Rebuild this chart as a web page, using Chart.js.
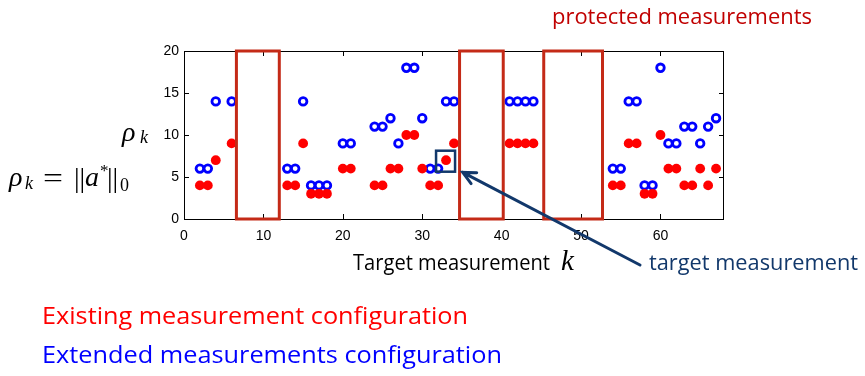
<!DOCTYPE html>
<html>
<head>
<meta charset="utf-8">
<script src="https://cdn.jsdelivr.net/npm/chart.js@4.4.1/dist/chart.umd.min.js"></script>
<style>
html, body { margin: 0; padding: 0; background: #fff; }
canvas { display: block; }
</style>
</head>
<body>
<canvas id="chart" width="865" height="376"></canvas>
<script>
// target measurement index k
const targets = [2, 3, 4, 6, 13, 14, 15, 16, 17, 18, 20, 21, 24, 25, 26, 27, 28, 29, 30, 31, 32, 33, 34, 41, 42, 43, 44, 54, 55, 56, 57, 58, 59, 60, 61, 62, 63, 64, 65, 66, 67];
// rho_k with the existing configuration (red dots)
const existing = [4, 4, 7, 9, 4, 4, 9, 3, 3, 3, 6, 6, 4, 4, 6, 6, 10, 10, 6, 4, 4, 7, 9, 9, 9, 9, 9, 4, 4, 9, 9, 3, 3, 10, 6, 6, 4, 4, 6, 4, 6];
// rho_k with the extended configuration (blue circles)
const extended = [6, 6, 14, 14, 6, 6, 14, 4, 4, 4, 9, 9, 11, 11, 12, 9, 18, 18, 12, 6, 6, 14, 14, 14, 14, 14, 14, 6, 6, 14, 14, 4, 4, 18, 9, 9, 11, 11, 9, 11, 12];

// protected measurement ranges (k from / to)
const protectedFrom = [6.6, 34.7, 45.3];
const protectedTo = [12, 40.2, 52.7];

// highlighted target point and where the arrow points
const targetK = 33;
const targetRho = 7;
const arrowTip = [35.1, 5.55];

const xTicks = [0, 10, 20, 30, 40, 50, 60];
const yTicks = [0, 5, 10, 15, 20];

const NAVY = '#12386b';
const BOX_RED = '#c42a17';
const SANS = '"Open Sans", "Noto Sans", sans-serif';
const SERIF = '"Liberation Serif", "DejaVu Serif", serif';

function toPoints(ys) {
    return targets.map((k, i) => ({ x: k, y: ys[i] }));
}

// draw text squeezed/stretched to a given width (Calibri look-alike)
function fitText(ctx, text, x, y, width, font, color) {
    ctx.save();
    ctx.font = font;
    ctx.fillStyle = color;
    ctx.textAlign = 'left';
    ctx.textBaseline = 'alphabetic';
    const w = ctx.measureText(text).width;
    ctx.translate(x, y);
    if (width) ctx.scale(width / w, 1);
    ctx.fillText(text, 0, 0);
    ctx.restore();
}

function plainText(ctx, text, x, y, font, color) {
    fitText(ctx, text, x, y, null, font, color || '#000');
}

const whiteBackground = {
    id: 'whiteBackground',
    beforeDraw(chart) {
        const ctx = chart.ctx;
        ctx.save();
        ctx.fillStyle = '#fff';
        ctx.fillRect(0, 0, chart.width, chart.height);
        ctx.restore();
    }
};

// MATLAB style frame with inward ticks
const frame = {
    id: 'frame',
    afterDatasetsDraw(chart) {
        const { ctx, chartArea: a, scales: { x, y } } = chart;
        ctx.save();
        ctx.strokeStyle = '#000';
        ctx.lineWidth = 1;
        ctx.strokeRect(a.left + 0.5, a.top + 0.5, a.right - a.left - 1, a.bottom - a.top);
        ctx.beginPath();
        xTicks.forEach(v => {
            const px = Math.round(x.getPixelForValue(v)) + 0.5;
            ctx.moveTo(px, a.bottom); ctx.lineTo(px, a.bottom - 5);
            ctx.moveTo(px, a.top); ctx.lineTo(px, a.top + 5);
        });
        yTicks.forEach(v => {
            const py = Math.round(y.getPixelForValue(v)) + 0.5;
            ctx.moveTo(a.left, py); ctx.lineTo(a.left + 5, py);
            ctx.moveTo(a.right, py); ctx.lineTo(a.right - 5, py);
        });
        ctx.stroke();

        // protected measurement boxes
        ctx.strokeStyle = BOX_RED;
        ctx.lineWidth = 3;
        protectedFrom.forEach((from, i) => {
            const x0 = x.getPixelForValue(from);
            const x1 = x.getPixelForValue(protectedTo[i]);
            ctx.strokeRect(x0, a.top, x1 - x0, a.bottom - a.top);
        });

        // square around the target measurement
        const cx = x.getPixelForValue(targetK);
        const cy = y.getPixelForValue(targetRho);
        ctx.strokeStyle = NAVY;
        ctx.lineWidth = 2.5;
        ctx.strokeRect(cx - 10, cy - 9.5, 19, 21);
        ctx.restore();
    }
};

const annotations = {
    id: 'annotations',
    afterDraw(chart) {
        const { ctx, scales: { x, y } } = chart;

        // arrow to the target measurement
        const tx = x.getPixelForValue(arrowTip[0]);
        const ty = y.getPixelForValue(arrowTip[1]);
        const sx = 640, sy = 265;
        const ang = Math.atan2(ty - sy, tx - sx);
        ctx.save();
        ctx.strokeStyle = NAVY;
        ctx.lineWidth = 3;
        ctx.lineCap = 'round';
        ctx.beginPath();
        ctx.moveTo(sx, sy);
        ctx.lineTo(tx, ty);
        ctx.moveTo(tx - 14 * Math.cos(ang - 0.45), ty - 14 * Math.sin(ang - 0.45));
        ctx.lineTo(tx, ty);
        ctx.lineTo(tx - 14 * Math.cos(ang + 0.45), ty - 14 * Math.sin(ang + 0.45));
        ctx.stroke();
        ctx.restore();

        fitText(ctx, 'protected measurements', 552, 24, 260, '22px ' + SANS, '#c00000');
        fitText(ctx, 'target measurement', 649, 270, 209, '22px ' + SANS, NAVY);
        fitText(ctx, 'Target measurement', 353, 270, 197, '22px ' + SANS, '#000');
        plainText(ctx, 'k', 561, 270, 'italic 29px ' + SERIF);

        fitText(ctx, 'Existing measurement configuration', 42, 324, 426, '24.5px ' + SANS, '#ff0000');
        fitText(ctx, 'Extended measurements configuration', 42, 363, 460, '24.5px ' + SANS, '#0000ff');

        // y label rho_k
        plainText(ctx, '\u03c1', 122, 141, 'italic 28px ' + SERIF);
        plainText(ctx, 'k', 140, 143, 'italic 18px ' + SERIF);

        // rho_k = ||a*||_0
        plainText(ctx, '\u03c1', 9, 186, 'italic 28px ' + SERIF);
        plainText(ctx, 'k', 25, 189, 'italic 18px ' + SERIF);
        fitText(ctx, '=', 43, 187, 20, '28px ' + SERIF, '#000');
        plainText(ctx, '||', 74, 187, '28px ' + SERIF);
        plainText(ctx, 'a', 85, 186, 'italic 28px ' + SERIF);
        plainText(ctx, '*', 100, 176, '17px ' + SERIF);
        plainText(ctx, '||', 107, 187, '28px ' + SERIF);
        plainText(ctx, '0', 120, 191, '18px ' + SERIF);
    }
};

new Chart(document.getElementById('chart'), {
    type: 'scatter',
    data: {
        datasets: [
            {
                label: 'Existing measurement configuration',
                data: toPoints(existing),
                pointStyle: 'circle',
                pointRadius: 4.9,
                pointBorderWidth: 0,
                backgroundColor: '#ff0000',
                borderColor: '#ff0000'
            },
            {
                label: 'Extended measurements configuration',
                data: toPoints(extended),
                pointStyle: 'circle',
                pointRadius: 3.8,
                pointBorderWidth: 2.8,
                backgroundColor: 'rgba(0,0,0,0)',
                borderColor: '#0000ff'
            }
        ]
    },
    options: {
        responsive: false,
        animation: false,
        layout: { padding: { left: 144, right: 141, top: 51, bottom: 127 } },
        plugins: {
            legend: { display: false },
            tooltip: { enabled: false }
        },
        scales: {
            x: {
                type: 'linear',
                min: 0,
                max: 68,
                afterBuildTicks: scale => { scale.ticks = xTicks.map(v => ({ value: v })); },
                afterFit: scale => { scale.height = 30; },
                grid: { display: false, drawTicks: false },
                border: { display: false },
                ticks: {
                    padding: 9,
                    color: '#000',
                    maxRotation: 0,
                    font: { family: '"Liberation Sans", Arial, sans-serif', size: 14 }
                }
            },
            y: {
                type: 'linear',
                min: 0,
                max: 20,
                afterBuildTicks: scale => { scale.ticks = yTicks.map(v => ({ value: v })); },
                afterFit: scale => { scale.width = 40; },
                grid: { display: false, drawTicks: false },
                border: { display: false },
                ticks: {
                    padding: 5,
                    color: '#000',
                    font: { family: '"Liberation Sans", Arial, sans-serif', size: 14 }
                }
            }
        }
    },
    plugins: [whiteBackground, frame, annotations]
});
</script>
</body>
</html>
